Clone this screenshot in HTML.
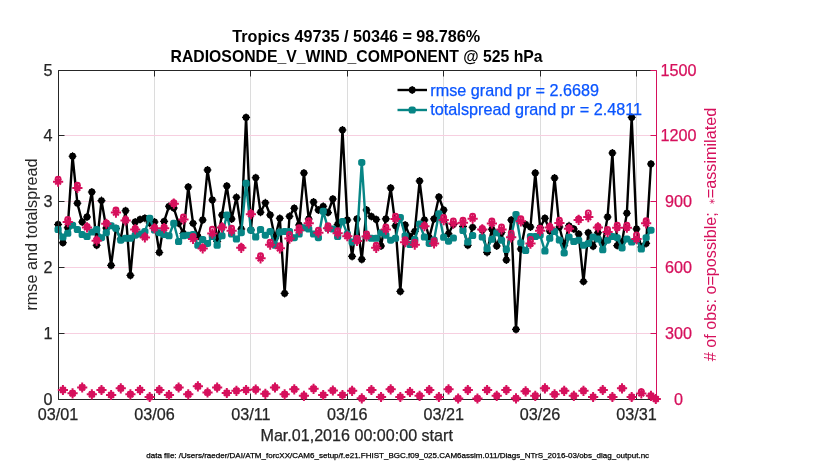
<!DOCTYPE html>
<html><head><meta charset="utf-8"><title>chart</title><style>html,body{margin:0;padding:0;background:#fff;}body{width:830px;height:470px;overflow:hidden;position:relative;font-family:"Liberation Sans",sans-serif;}</style></head><body>
<svg width="830" height="470" viewBox="0 0 830 470" style="position:absolute;left:0;top:0;filter:opacity(1)">
<rect x="0" y="0" width="830" height="470" fill="#fff"/>
<line x1="154.50" y1="70.5" x2="154.50" y2="399.5" stroke="#dcdcdc" stroke-width="1"/>
<line x1="250.50" y1="70.5" x2="250.50" y2="399.5" stroke="#dcdcdc" stroke-width="1"/>
<line x1="347.50" y1="70.5" x2="347.50" y2="399.5" stroke="#dcdcdc" stroke-width="1"/>
<line x1="443.50" y1="70.5" x2="443.50" y2="399.5" stroke="#dcdcdc" stroke-width="1"/>
<line x1="540.50" y1="70.5" x2="540.50" y2="399.5" stroke="#dcdcdc" stroke-width="1"/>
<line x1="636.50" y1="70.5" x2="636.50" y2="399.5" stroke="#dcdcdc" stroke-width="1"/>
<line x1="58.5" y1="333.50" x2="656.5" y2="333.50" stroke="#f7cfe0" stroke-width="1"/>
<line x1="58.5" y1="267.50" x2="656.5" y2="267.50" stroke="#f7cfe0" stroke-width="1"/>
<line x1="58.5" y1="201.50" x2="656.5" y2="201.50" stroke="#f7cfe0" stroke-width="1"/>
<line x1="58.5" y1="135.50" x2="656.5" y2="135.50" stroke="#f7cfe0" stroke-width="1"/>
<path d="M58.10 224.50L62.92 242.70L67.74 227.70L72.56 156.20L77.38 203.20L82.20 222.00L87.02 217.00L91.84 192.00L96.66 245.30L101.48 200.60L106.30 228.00L111.12 265.40L115.94 228.50L120.76 239.00L125.58 210.70L130.40 275.40L135.22 222.00L140.04 219.50L144.86 218.20L149.68 223.00L154.50 222.00L159.32 252.50L164.14 221.40L168.96 206.30L173.78 208.00L178.60 223.30L183.42 233.50L188.24 187.00L193.06 223.30L197.88 236.50L202.70 220.00L207.52 170.00L212.34 200.00L217.16 241.50L221.98 215.00L226.80 186.00L231.62 219.00L236.44 197.30L241.26 229.00L246.08 117.40L250.90 230.00L255.72 177.70L260.54 212.20L265.36 202.80L270.18 215.00L275.00 238.30L279.82 218.30L284.64 293.40L289.46 216.30L294.28 208.20L299.10 225.00L303.92 173.00L308.74 219.00L313.56 202.00L318.38 210.00L323.20 206.30L328.02 212.60L332.84 199.00L337.66 224.50L342.48 130.00L347.30 220.00L352.12 256.40L356.94 219.00L361.76 259.40L366.58 210.00L371.40 216.40L376.22 219.50L381.04 246.00L385.86 218.90L390.68 188.00L395.50 225.80L400.32 291.40L405.14 225.00L409.96 236.50L414.78 231.40L419.60 181.00L424.42 220.00L429.24 237.70L434.06 218.90L438.88 197.00L443.70 210.00L448.52 233.80L453.34 224.50" fill="none" stroke="#000" stroke-width="2.4" stroke-linejoin="round" stroke-linecap="round"/>
<path d="M462.98 226.50L467.80 245.20L472.62 227.30" fill="none" stroke="#000" stroke-width="2.4" stroke-linejoin="round" stroke-linecap="round"/>
<path d="M482.26 230.00L487.08 252.40L491.90 229.30L496.72 246.00L501.54 232.50L506.36 260.00L511.18 220.00L516.00 329.40L520.82 249.00L525.64 224.50L530.46 227.00L535.28 173.00L540.10 227.70L544.92 218.20L549.74 231.00L554.56 178.00L559.38 227.00L564.20 245.30L569.02 225.80L573.84 229.00L578.66 234.00L583.48 281.60L588.30 232.70L593.12 246.30L597.94 232.70L602.76 244.00L607.58 217.00L612.40 153.00L617.22 245.60L622.04 242.00L626.86 213.20L631.68 117.40L636.50 229.00L641.32 247.00L646.14 243.40L650.96 164.00" fill="none" stroke="#000" stroke-width="2.4" stroke-linejoin="round" stroke-linecap="round"/>
<circle cx="58.10" cy="224.50" r="3.4" fill="#000"/>
<circle cx="62.92" cy="242.70" r="3.4" fill="#000"/>
<circle cx="67.74" cy="227.70" r="3.4" fill="#000"/>
<circle cx="72.56" cy="156.20" r="3.4" fill="#000"/>
<circle cx="77.38" cy="203.20" r="3.4" fill="#000"/>
<circle cx="82.20" cy="222.00" r="3.4" fill="#000"/>
<circle cx="87.02" cy="217.00" r="3.4" fill="#000"/>
<circle cx="91.84" cy="192.00" r="3.4" fill="#000"/>
<circle cx="96.66" cy="245.30" r="3.4" fill="#000"/>
<circle cx="101.48" cy="200.60" r="3.4" fill="#000"/>
<circle cx="106.30" cy="228.00" r="3.4" fill="#000"/>
<circle cx="111.12" cy="265.40" r="3.4" fill="#000"/>
<circle cx="115.94" cy="228.50" r="3.4" fill="#000"/>
<circle cx="120.76" cy="239.00" r="3.4" fill="#000"/>
<circle cx="125.58" cy="210.70" r="3.4" fill="#000"/>
<circle cx="130.40" cy="275.40" r="3.4" fill="#000"/>
<circle cx="135.22" cy="222.00" r="3.4" fill="#000"/>
<circle cx="140.04" cy="219.50" r="3.4" fill="#000"/>
<circle cx="144.86" cy="218.20" r="3.4" fill="#000"/>
<circle cx="149.68" cy="223.00" r="3.4" fill="#000"/>
<circle cx="154.50" cy="222.00" r="3.4" fill="#000"/>
<circle cx="159.32" cy="252.50" r="3.4" fill="#000"/>
<circle cx="164.14" cy="221.40" r="3.4" fill="#000"/>
<circle cx="168.96" cy="206.30" r="3.4" fill="#000"/>
<circle cx="173.78" cy="208.00" r="3.4" fill="#000"/>
<circle cx="178.60" cy="223.30" r="3.4" fill="#000"/>
<circle cx="183.42" cy="233.50" r="3.4" fill="#000"/>
<circle cx="188.24" cy="187.00" r="3.4" fill="#000"/>
<circle cx="193.06" cy="223.30" r="3.4" fill="#000"/>
<circle cx="197.88" cy="236.50" r="3.4" fill="#000"/>
<circle cx="202.70" cy="220.00" r="3.4" fill="#000"/>
<circle cx="207.52" cy="170.00" r="3.4" fill="#000"/>
<circle cx="212.34" cy="200.00" r="3.4" fill="#000"/>
<circle cx="217.16" cy="241.50" r="3.4" fill="#000"/>
<circle cx="221.98" cy="215.00" r="3.4" fill="#000"/>
<circle cx="226.80" cy="186.00" r="3.4" fill="#000"/>
<circle cx="231.62" cy="219.00" r="3.4" fill="#000"/>
<circle cx="236.44" cy="197.30" r="3.4" fill="#000"/>
<circle cx="241.26" cy="229.00" r="3.4" fill="#000"/>
<circle cx="246.08" cy="117.40" r="3.4" fill="#000"/>
<circle cx="250.90" cy="230.00" r="3.4" fill="#000"/>
<circle cx="255.72" cy="177.70" r="3.4" fill="#000"/>
<circle cx="260.54" cy="212.20" r="3.4" fill="#000"/>
<circle cx="265.36" cy="202.80" r="3.4" fill="#000"/>
<circle cx="270.18" cy="215.00" r="3.4" fill="#000"/>
<circle cx="275.00" cy="238.30" r="3.4" fill="#000"/>
<circle cx="279.82" cy="218.30" r="3.4" fill="#000"/>
<circle cx="284.64" cy="293.40" r="3.4" fill="#000"/>
<circle cx="289.46" cy="216.30" r="3.4" fill="#000"/>
<circle cx="294.28" cy="208.20" r="3.4" fill="#000"/>
<circle cx="299.10" cy="225.00" r="3.4" fill="#000"/>
<circle cx="303.92" cy="173.00" r="3.4" fill="#000"/>
<circle cx="308.74" cy="219.00" r="3.4" fill="#000"/>
<circle cx="313.56" cy="202.00" r="3.4" fill="#000"/>
<circle cx="318.38" cy="210.00" r="3.4" fill="#000"/>
<circle cx="323.20" cy="206.30" r="3.4" fill="#000"/>
<circle cx="328.02" cy="212.60" r="3.4" fill="#000"/>
<circle cx="332.84" cy="199.00" r="3.4" fill="#000"/>
<circle cx="337.66" cy="224.50" r="3.4" fill="#000"/>
<circle cx="342.48" cy="130.00" r="3.4" fill="#000"/>
<circle cx="347.30" cy="220.00" r="3.4" fill="#000"/>
<circle cx="352.12" cy="256.40" r="3.4" fill="#000"/>
<circle cx="356.94" cy="219.00" r="3.4" fill="#000"/>
<circle cx="361.76" cy="259.40" r="3.4" fill="#000"/>
<circle cx="366.58" cy="210.00" r="3.4" fill="#000"/>
<circle cx="371.40" cy="216.40" r="3.4" fill="#000"/>
<circle cx="376.22" cy="219.50" r="3.4" fill="#000"/>
<circle cx="381.04" cy="246.00" r="3.4" fill="#000"/>
<circle cx="385.86" cy="218.90" r="3.4" fill="#000"/>
<circle cx="390.68" cy="188.00" r="3.4" fill="#000"/>
<circle cx="395.50" cy="225.80" r="3.4" fill="#000"/>
<circle cx="400.32" cy="291.40" r="3.4" fill="#000"/>
<circle cx="405.14" cy="225.00" r="3.4" fill="#000"/>
<circle cx="409.96" cy="236.50" r="3.4" fill="#000"/>
<circle cx="414.78" cy="231.40" r="3.4" fill="#000"/>
<circle cx="419.60" cy="181.00" r="3.4" fill="#000"/>
<circle cx="424.42" cy="220.00" r="3.4" fill="#000"/>
<circle cx="429.24" cy="237.70" r="3.4" fill="#000"/>
<circle cx="434.06" cy="218.90" r="3.4" fill="#000"/>
<circle cx="438.88" cy="197.00" r="3.4" fill="#000"/>
<circle cx="443.70" cy="210.00" r="3.4" fill="#000"/>
<circle cx="448.52" cy="233.80" r="3.4" fill="#000"/>
<circle cx="453.34" cy="224.50" r="3.4" fill="#000"/>
<circle cx="462.98" cy="226.50" r="3.4" fill="#000"/>
<circle cx="467.80" cy="245.20" r="3.4" fill="#000"/>
<circle cx="472.62" cy="227.30" r="3.4" fill="#000"/>
<circle cx="482.26" cy="230.00" r="3.4" fill="#000"/>
<circle cx="487.08" cy="252.40" r="3.4" fill="#000"/>
<circle cx="491.90" cy="229.30" r="3.4" fill="#000"/>
<circle cx="496.72" cy="246.00" r="3.4" fill="#000"/>
<circle cx="501.54" cy="232.50" r="3.4" fill="#000"/>
<circle cx="506.36" cy="260.00" r="3.4" fill="#000"/>
<circle cx="511.18" cy="220.00" r="3.4" fill="#000"/>
<circle cx="516.00" cy="329.40" r="3.4" fill="#000"/>
<circle cx="520.82" cy="249.00" r="3.4" fill="#000"/>
<circle cx="525.64" cy="224.50" r="3.4" fill="#000"/>
<circle cx="530.46" cy="227.00" r="3.4" fill="#000"/>
<circle cx="535.28" cy="173.00" r="3.4" fill="#000"/>
<circle cx="540.10" cy="227.70" r="3.4" fill="#000"/>
<circle cx="544.92" cy="218.20" r="3.4" fill="#000"/>
<circle cx="549.74" cy="231.00" r="3.4" fill="#000"/>
<circle cx="554.56" cy="178.00" r="3.4" fill="#000"/>
<circle cx="559.38" cy="227.00" r="3.4" fill="#000"/>
<circle cx="564.20" cy="245.30" r="3.4" fill="#000"/>
<circle cx="569.02" cy="225.80" r="3.4" fill="#000"/>
<circle cx="573.84" cy="229.00" r="3.4" fill="#000"/>
<circle cx="578.66" cy="234.00" r="3.4" fill="#000"/>
<circle cx="583.48" cy="281.60" r="3.4" fill="#000"/>
<circle cx="588.30" cy="232.70" r="3.4" fill="#000"/>
<circle cx="593.12" cy="246.30" r="3.4" fill="#000"/>
<circle cx="597.94" cy="232.70" r="3.4" fill="#000"/>
<circle cx="602.76" cy="244.00" r="3.4" fill="#000"/>
<circle cx="607.58" cy="217.00" r="3.4" fill="#000"/>
<circle cx="612.40" cy="153.00" r="3.4" fill="#000"/>
<circle cx="617.22" cy="245.60" r="3.4" fill="#000"/>
<circle cx="622.04" cy="242.00" r="3.4" fill="#000"/>
<circle cx="626.86" cy="213.20" r="3.4" fill="#000"/>
<circle cx="631.68" cy="117.40" r="3.4" fill="#000"/>
<circle cx="636.50" cy="229.00" r="3.4" fill="#000"/>
<circle cx="641.32" cy="247.00" r="3.4" fill="#000"/>
<circle cx="646.14" cy="243.40" r="3.4" fill="#000"/>
<circle cx="650.96" cy="164.00" r="3.4" fill="#000"/>
<path d="M54.10 224.50L62.10 224.50M55.84 222.24L60.36 226.76M58.10 220.50L58.10 228.50M60.36 222.24L55.84 226.76M58.92 242.70L66.92 242.70M60.66 240.44L65.18 244.96M62.92 238.70L62.92 246.70M65.18 240.44L60.66 244.96M63.74 227.70L71.74 227.70M65.48 225.44L70.00 229.96M67.74 223.70L67.74 231.70M70.00 225.44L65.48 229.96M68.56 156.20L76.56 156.20M70.30 153.94L74.82 158.46M72.56 152.20L72.56 160.20M74.82 153.94L70.30 158.46M73.38 203.20L81.38 203.20M75.12 200.94L79.64 205.46M77.38 199.20L77.38 207.20M79.64 200.94L75.12 205.46M78.20 222.00L86.20 222.00M79.94 219.74L84.46 224.26M82.20 218.00L82.20 226.00M84.46 219.74L79.94 224.26M83.02 217.00L91.02 217.00M84.76 214.74L89.28 219.26M87.02 213.00L87.02 221.00M89.28 214.74L84.76 219.26M87.84 192.00L95.84 192.00M89.58 189.74L94.10 194.26M91.84 188.00L91.84 196.00M94.10 189.74L89.58 194.26M92.66 245.30L100.66 245.30M94.40 243.04L98.92 247.56M96.66 241.30L96.66 249.30M98.92 243.04L94.40 247.56M97.48 200.60L105.48 200.60M99.22 198.34L103.74 202.86M101.48 196.60L101.48 204.60M103.74 198.34L99.22 202.86M102.30 228.00L110.30 228.00M104.04 225.74L108.56 230.26M106.30 224.00L106.30 232.00M108.56 225.74L104.04 230.26M107.12 265.40L115.12 265.40M108.86 263.14L113.38 267.66M111.12 261.40L111.12 269.40M113.38 263.14L108.86 267.66M111.94 228.50L119.94 228.50M113.68 226.24L118.20 230.76M115.94 224.50L115.94 232.50M118.20 226.24L113.68 230.76M116.76 239.00L124.76 239.00M118.50 236.74L123.02 241.26M120.76 235.00L120.76 243.00M123.02 236.74L118.50 241.26M121.58 210.70L129.58 210.70M123.32 208.44L127.84 212.96M125.58 206.70L125.58 214.70M127.84 208.44L123.32 212.96M126.40 275.40L134.40 275.40M128.14 273.14L132.66 277.66M130.40 271.40L130.40 279.40M132.66 273.14L128.14 277.66M131.22 222.00L139.22 222.00M132.96 219.74L137.48 224.26M135.22 218.00L135.22 226.00M137.48 219.74L132.96 224.26M136.04 219.50L144.04 219.50M137.78 217.24L142.30 221.76M140.04 215.50L140.04 223.50M142.30 217.24L137.78 221.76M140.86 218.20L148.86 218.20M142.60 215.94L147.12 220.46M144.86 214.20L144.86 222.20M147.12 215.94L142.60 220.46M145.68 223.00L153.68 223.00M147.42 220.74L151.94 225.26M149.68 219.00L149.68 227.00M151.94 220.74L147.42 225.26M150.50 222.00L158.50 222.00M152.24 219.74L156.76 224.26M154.50 218.00L154.50 226.00M156.76 219.74L152.24 224.26M155.32 252.50L163.32 252.50M157.06 250.24L161.58 254.76M159.32 248.50L159.32 256.50M161.58 250.24L157.06 254.76M160.14 221.40L168.14 221.40M161.88 219.14L166.40 223.66M164.14 217.40L164.14 225.40M166.40 219.14L161.88 223.66M164.96 206.30L172.96 206.30M166.70 204.04L171.22 208.56M168.96 202.30L168.96 210.30M171.22 204.04L166.70 208.56M169.78 208.00L177.78 208.00M171.52 205.74L176.04 210.26M173.78 204.00L173.78 212.00M176.04 205.74L171.52 210.26M174.60 223.30L182.60 223.30M176.34 221.04L180.86 225.56M178.60 219.30L178.60 227.30M180.86 221.04L176.34 225.56M179.42 233.50L187.42 233.50M181.16 231.24L185.68 235.76M183.42 229.50L183.42 237.50M185.68 231.24L181.16 235.76M184.24 187.00L192.24 187.00M185.98 184.74L190.50 189.26M188.24 183.00L188.24 191.00M190.50 184.74L185.98 189.26M189.06 223.30L197.06 223.30M190.80 221.04L195.32 225.56M193.06 219.30L193.06 227.30M195.32 221.04L190.80 225.56M193.88 236.50L201.88 236.50M195.62 234.24L200.14 238.76M197.88 232.50L197.88 240.50M200.14 234.24L195.62 238.76M198.70 220.00L206.70 220.00M200.44 217.74L204.96 222.26M202.70 216.00L202.70 224.00M204.96 217.74L200.44 222.26M203.52 170.00L211.52 170.00M205.26 167.74L209.78 172.26M207.52 166.00L207.52 174.00M209.78 167.74L205.26 172.26M208.34 200.00L216.34 200.00M210.08 197.74L214.60 202.26M212.34 196.00L212.34 204.00M214.60 197.74L210.08 202.26M213.16 241.50L221.16 241.50M214.90 239.24L219.42 243.76M217.16 237.50L217.16 245.50M219.42 239.24L214.90 243.76M217.98 215.00L225.98 215.00M219.72 212.74L224.24 217.26M221.98 211.00L221.98 219.00M224.24 212.74L219.72 217.26M222.80 186.00L230.80 186.00M224.54 183.74L229.06 188.26M226.80 182.00L226.80 190.00M229.06 183.74L224.54 188.26M227.62 219.00L235.62 219.00M229.36 216.74L233.88 221.26M231.62 215.00L231.62 223.00M233.88 216.74L229.36 221.26M232.44 197.30L240.44 197.30M234.18 195.04L238.70 199.56M236.44 193.30L236.44 201.30M238.70 195.04L234.18 199.56M237.26 229.00L245.26 229.00M239.00 226.74L243.52 231.26M241.26 225.00L241.26 233.00M243.52 226.74L239.00 231.26M242.08 117.40L250.08 117.40M243.82 115.14L248.34 119.66M246.08 113.40L246.08 121.40M248.34 115.14L243.82 119.66M246.90 230.00L254.90 230.00M248.64 227.74L253.16 232.26M250.90 226.00L250.90 234.00M253.16 227.74L248.64 232.26M251.72 177.70L259.72 177.70M253.46 175.44L257.98 179.96M255.72 173.70L255.72 181.70M257.98 175.44L253.46 179.96M256.54 212.20L264.54 212.20M258.28 209.94L262.80 214.46M260.54 208.20L260.54 216.20M262.80 209.94L258.28 214.46M261.36 202.80L269.36 202.80M263.10 200.54L267.62 205.06M265.36 198.80L265.36 206.80M267.62 200.54L263.10 205.06M266.18 215.00L274.18 215.00M267.92 212.74L272.44 217.26M270.18 211.00L270.18 219.00M272.44 212.74L267.92 217.26M271.00 238.30L279.00 238.30M272.74 236.04L277.26 240.56M275.00 234.30L275.00 242.30M277.26 236.04L272.74 240.56M275.82 218.30L283.82 218.30M277.56 216.04L282.08 220.56M279.82 214.30L279.82 222.30M282.08 216.04L277.56 220.56M280.64 293.40L288.64 293.40M282.38 291.14L286.90 295.66M284.64 289.40L284.64 297.40M286.90 291.14L282.38 295.66M285.46 216.30L293.46 216.30M287.20 214.04L291.72 218.56M289.46 212.30L289.46 220.30M291.72 214.04L287.20 218.56M290.28 208.20L298.28 208.20M292.02 205.94L296.54 210.46M294.28 204.20L294.28 212.20M296.54 205.94L292.02 210.46M295.10 225.00L303.10 225.00M296.84 222.74L301.36 227.26M299.10 221.00L299.10 229.00M301.36 222.74L296.84 227.26M299.92 173.00L307.92 173.00M301.66 170.74L306.18 175.26M303.92 169.00L303.92 177.00M306.18 170.74L301.66 175.26M304.74 219.00L312.74 219.00M306.48 216.74L311.00 221.26M308.74 215.00L308.74 223.00M311.00 216.74L306.48 221.26M309.56 202.00L317.56 202.00M311.30 199.74L315.82 204.26M313.56 198.00L313.56 206.00M315.82 199.74L311.30 204.26M314.38 210.00L322.38 210.00M316.12 207.74L320.64 212.26M318.38 206.00L318.38 214.00M320.64 207.74L316.12 212.26M319.20 206.30L327.20 206.30M320.94 204.04L325.46 208.56M323.20 202.30L323.20 210.30M325.46 204.04L320.94 208.56M324.02 212.60L332.02 212.60M325.76 210.34L330.28 214.86M328.02 208.60L328.02 216.60M330.28 210.34L325.76 214.86M328.84 199.00L336.84 199.00M330.58 196.74L335.10 201.26M332.84 195.00L332.84 203.00M335.10 196.74L330.58 201.26M333.66 224.50L341.66 224.50M335.40 222.24L339.92 226.76M337.66 220.50L337.66 228.50M339.92 222.24L335.40 226.76M338.48 130.00L346.48 130.00M340.22 127.74L344.74 132.26M342.48 126.00L342.48 134.00M344.74 127.74L340.22 132.26M343.30 220.00L351.30 220.00M345.04 217.74L349.56 222.26M347.30 216.00L347.30 224.00M349.56 217.74L345.04 222.26M348.12 256.40L356.12 256.40M349.86 254.14L354.38 258.66M352.12 252.40L352.12 260.40M354.38 254.14L349.86 258.66M352.94 219.00L360.94 219.00M354.68 216.74L359.20 221.26M356.94 215.00L356.94 223.00M359.20 216.74L354.68 221.26M357.76 259.40L365.76 259.40M359.50 257.14L364.02 261.66M361.76 255.40L361.76 263.40M364.02 257.14L359.50 261.66M362.58 210.00L370.58 210.00M364.32 207.74L368.84 212.26M366.58 206.00L366.58 214.00M368.84 207.74L364.32 212.26M367.40 216.40L375.40 216.40M369.14 214.14L373.66 218.66M371.40 212.40L371.40 220.40M373.66 214.14L369.14 218.66M372.22 219.50L380.22 219.50M373.96 217.24L378.48 221.76M376.22 215.50L376.22 223.50M378.48 217.24L373.96 221.76M377.04 246.00L385.04 246.00M378.78 243.74L383.30 248.26M381.04 242.00L381.04 250.00M383.30 243.74L378.78 248.26M381.86 218.90L389.86 218.90M383.60 216.64L388.12 221.16M385.86 214.90L385.86 222.90M388.12 216.64L383.60 221.16M386.68 188.00L394.68 188.00M388.42 185.74L392.94 190.26M390.68 184.00L390.68 192.00M392.94 185.74L388.42 190.26M391.50 225.80L399.50 225.80M393.24 223.54L397.76 228.06M395.50 221.80L395.50 229.80M397.76 223.54L393.24 228.06M396.32 291.40L404.32 291.40M398.06 289.14L402.58 293.66M400.32 287.40L400.32 295.40M402.58 289.14L398.06 293.66M401.14 225.00L409.14 225.00M402.88 222.74L407.40 227.26M405.14 221.00L405.14 229.00M407.40 222.74L402.88 227.26M405.96 236.50L413.96 236.50M407.70 234.24L412.22 238.76M409.96 232.50L409.96 240.50M412.22 234.24L407.70 238.76M410.78 231.40L418.78 231.40M412.52 229.14L417.04 233.66M414.78 227.40L414.78 235.40M417.04 229.14L412.52 233.66M415.60 181.00L423.60 181.00M417.34 178.74L421.86 183.26M419.60 177.00L419.60 185.00M421.86 178.74L417.34 183.26M420.42 220.00L428.42 220.00M422.16 217.74L426.68 222.26M424.42 216.00L424.42 224.00M426.68 217.74L422.16 222.26M425.24 237.70L433.24 237.70M426.98 235.44L431.50 239.96M429.24 233.70L429.24 241.70M431.50 235.44L426.98 239.96M430.06 218.90L438.06 218.90M431.80 216.64L436.32 221.16M434.06 214.90L434.06 222.90M436.32 216.64L431.80 221.16M434.88 197.00L442.88 197.00M436.62 194.74L441.14 199.26M438.88 193.00L438.88 201.00M441.14 194.74L436.62 199.26M439.70 210.00L447.70 210.00M441.44 207.74L445.96 212.26M443.70 206.00L443.70 214.00M445.96 207.74L441.44 212.26M444.52 233.80L452.52 233.80M446.26 231.54L450.78 236.06M448.52 229.80L448.52 237.80M450.78 231.54L446.26 236.06M449.34 224.50L457.34 224.50M451.08 222.24L455.60 226.76M453.34 220.50L453.34 228.50M455.60 222.24L451.08 226.76M458.98 226.50L466.98 226.50M460.72 224.24L465.24 228.76M462.98 222.50L462.98 230.50M465.24 224.24L460.72 228.76M463.80 245.20L471.80 245.20M465.54 242.94L470.06 247.46M467.80 241.20L467.80 249.20M470.06 242.94L465.54 247.46M468.62 227.30L476.62 227.30M470.36 225.04L474.88 229.56M472.62 223.30L472.62 231.30M474.88 225.04L470.36 229.56M478.26 230.00L486.26 230.00M480.00 227.74L484.52 232.26M482.26 226.00L482.26 234.00M484.52 227.74L480.00 232.26M483.08 252.40L491.08 252.40M484.82 250.14L489.34 254.66M487.08 248.40L487.08 256.40M489.34 250.14L484.82 254.66M487.90 229.30L495.90 229.30M489.64 227.04L494.16 231.56M491.90 225.30L491.90 233.30M494.16 227.04L489.64 231.56M492.72 246.00L500.72 246.00M494.46 243.74L498.98 248.26M496.72 242.00L496.72 250.00M498.98 243.74L494.46 248.26M497.54 232.50L505.54 232.50M499.28 230.24L503.80 234.76M501.54 228.50L501.54 236.50M503.80 230.24L499.28 234.76M502.36 260.00L510.36 260.00M504.10 257.74L508.62 262.26M506.36 256.00L506.36 264.00M508.62 257.74L504.10 262.26M507.18 220.00L515.18 220.00M508.92 217.74L513.44 222.26M511.18 216.00L511.18 224.00M513.44 217.74L508.92 222.26M512.00 329.40L520.00 329.40M513.74 327.14L518.26 331.66M516.00 325.40L516.00 333.40M518.26 327.14L513.74 331.66M516.82 249.00L524.82 249.00M518.56 246.74L523.08 251.26M520.82 245.00L520.82 253.00M523.08 246.74L518.56 251.26M521.64 224.50L529.64 224.50M523.38 222.24L527.90 226.76M525.64 220.50L525.64 228.50M527.90 222.24L523.38 226.76M526.46 227.00L534.46 227.00M528.20 224.74L532.72 229.26M530.46 223.00L530.46 231.00M532.72 224.74L528.20 229.26M531.28 173.00L539.28 173.00M533.02 170.74L537.54 175.26M535.28 169.00L535.28 177.00M537.54 170.74L533.02 175.26M536.10 227.70L544.10 227.70M537.84 225.44L542.36 229.96M540.10 223.70L540.10 231.70M542.36 225.44L537.84 229.96M540.92 218.20L548.92 218.20M542.66 215.94L547.18 220.46M544.92 214.20L544.92 222.20M547.18 215.94L542.66 220.46M545.74 231.00L553.74 231.00M547.48 228.74L552.00 233.26M549.74 227.00L549.74 235.00M552.00 228.74L547.48 233.26M550.56 178.00L558.56 178.00M552.30 175.74L556.82 180.26M554.56 174.00L554.56 182.00M556.82 175.74L552.30 180.26M555.38 227.00L563.38 227.00M557.12 224.74L561.64 229.26M559.38 223.00L559.38 231.00M561.64 224.74L557.12 229.26M560.20 245.30L568.20 245.30M561.94 243.04L566.46 247.56M564.20 241.30L564.20 249.30M566.46 243.04L561.94 247.56M565.02 225.80L573.02 225.80M566.76 223.54L571.28 228.06M569.02 221.80L569.02 229.80M571.28 223.54L566.76 228.06M569.84 229.00L577.84 229.00M571.58 226.74L576.10 231.26M573.84 225.00L573.84 233.00M576.10 226.74L571.58 231.26M574.66 234.00L582.66 234.00M576.40 231.74L580.92 236.26M578.66 230.00L578.66 238.00M580.92 231.74L576.40 236.26M579.48 281.60L587.48 281.60M581.22 279.34L585.74 283.86M583.48 277.60L583.48 285.60M585.74 279.34L581.22 283.86M584.30 232.70L592.30 232.70M586.04 230.44L590.56 234.96M588.30 228.70L588.30 236.70M590.56 230.44L586.04 234.96M589.12 246.30L597.12 246.30M590.86 244.04L595.38 248.56M593.12 242.30L593.12 250.30M595.38 244.04L590.86 248.56M593.94 232.70L601.94 232.70M595.68 230.44L600.20 234.96M597.94 228.70L597.94 236.70M600.20 230.44L595.68 234.96M598.76 244.00L606.76 244.00M600.50 241.74L605.02 246.26M602.76 240.00L602.76 248.00M605.02 241.74L600.50 246.26M603.58 217.00L611.58 217.00M605.32 214.74L609.84 219.26M607.58 213.00L607.58 221.00M609.84 214.74L605.32 219.26M608.40 153.00L616.40 153.00M610.14 150.74L614.66 155.26M612.40 149.00L612.40 157.00M614.66 150.74L610.14 155.26M613.22 245.60L621.22 245.60M614.96 243.34L619.48 247.86M617.22 241.60L617.22 249.60M619.48 243.34L614.96 247.86M618.04 242.00L626.04 242.00M619.78 239.74L624.30 244.26M622.04 238.00L622.04 246.00M624.30 239.74L619.78 244.26M622.86 213.20L630.86 213.20M624.60 210.94L629.12 215.46M626.86 209.20L626.86 217.20M629.12 210.94L624.60 215.46M627.68 117.40L635.68 117.40M629.42 115.14L633.94 119.66M631.68 113.40L631.68 121.40M633.94 115.14L629.42 119.66M632.50 229.00L640.50 229.00M634.24 226.74L638.76 231.26M636.50 225.00L636.50 233.00M638.76 226.74L634.24 231.26M637.32 247.00L645.32 247.00M639.06 244.74L643.58 249.26M641.32 243.00L641.32 251.00M643.58 244.74L639.06 249.26M642.14 243.40L650.14 243.40M643.88 241.14L648.40 245.66M646.14 239.40L646.14 247.40M648.40 241.14L643.88 245.66M646.96 164.00L654.96 164.00M648.70 161.74L653.22 166.26M650.96 160.00L650.96 168.00M653.22 161.74L648.70 166.26" stroke="#000" stroke-width="1.1" fill="none"/>
<path d="M58.10 229.50L62.92 237.00L67.74 233.30L72.56 225.20L77.38 229.50L82.20 234.60L87.02 236.50L91.84 232.00L96.66 229.50L101.48 237.70L106.30 232.70L111.12 225.80L115.94 228.30L120.76 240.20L125.58 238.30L130.40 238.30L135.22 235.20L140.04 234.00L144.86 231.40L149.68 218.20L154.50 230.00L159.32 232.70L164.14 234.60L168.96 235.80L173.78 223.30L178.60 241.50L183.42 235.80L188.24 235.20L193.06 234.60L197.88 245.30L202.70 239.60L207.52 243.40L212.34 236.50L217.16 245.30L221.98 235.80L226.80 215.00L231.62 234.00L236.44 239.00L241.26 232.70L246.08 183.30L250.90 230.20L255.72 237.00L260.54 229.50L265.36 235.20L270.18 231.40L275.00 245.30L279.82 232.00L284.64 231.40L289.46 231.40L294.28 237.70L299.10 234.00L303.92 227.70L308.74 229.00L313.56 234.00L318.38 237.70L323.20 211.30L328.02 228.30L332.84 229.00L337.66 236.50L342.48 221.40L347.30 234.00L352.12 242.10L356.94 239.00L361.76 162.40L366.58 236.00L371.40 238.30L376.22 238.30L381.04 232.70L385.86 235.20L390.68 240.20L395.50 238.30L400.32 217.60L405.14 235.80L409.96 244.60L414.78 239.60L419.60 223.90L424.42 237.00L429.24 243.40L434.06 240.00L438.88 213.80L443.70 237.30L448.52 241.20L453.34 238.00" fill="none" stroke="#078585" stroke-width="2.4" stroke-linejoin="round" stroke-linecap="round"/>
<path d="M462.98 230.50L467.80 242.00L472.62 235.50" fill="none" stroke="#078585" stroke-width="2.4" stroke-linejoin="round" stroke-linecap="round"/>
<path d="M482.26 237.00L487.08 248.70L491.90 239.30L496.72 232.80L501.54 240.20L506.36 249.50L511.18 236.00L516.00 214.50L520.82 242.70L525.64 250.60L530.46 236.50L535.28 236.50L540.10 235.20L544.92 251.00L549.74 238.30L554.56 231.40L559.38 240.00L564.20 253.00L569.02 237.00L573.84 241.50L578.66 240.20L583.48 245.30L588.30 243.40L593.12 237.00L597.94 239.00L602.76 249.80L607.58 240.20L612.40 236.50L617.22 237.70L622.04 247.90L626.86 239.00L631.68 242.10L636.50 239.60L641.32 249.00L646.14 237.70L650.96 230.20" fill="none" stroke="#078585" stroke-width="2.4" stroke-linejoin="round" stroke-linecap="round"/>
<rect x="54.50" y="226.00" width="7.2" height="7" rx="2.6" fill="#078585"/>
<rect x="59.32" y="233.50" width="7.2" height="7" rx="2.6" fill="#078585"/>
<rect x="64.14" y="229.80" width="7.2" height="7" rx="2.6" fill="#078585"/>
<rect x="68.96" y="221.70" width="7.2" height="7" rx="2.6" fill="#078585"/>
<rect x="73.78" y="226.00" width="7.2" height="7" rx="2.6" fill="#078585"/>
<rect x="78.60" y="231.10" width="7.2" height="7" rx="2.6" fill="#078585"/>
<rect x="83.42" y="233.00" width="7.2" height="7" rx="2.6" fill="#078585"/>
<rect x="88.24" y="228.50" width="7.2" height="7" rx="2.6" fill="#078585"/>
<rect x="93.06" y="226.00" width="7.2" height="7" rx="2.6" fill="#078585"/>
<rect x="97.88" y="234.20" width="7.2" height="7" rx="2.6" fill="#078585"/>
<rect x="102.70" y="229.20" width="7.2" height="7" rx="2.6" fill="#078585"/>
<rect x="107.52" y="222.30" width="7.2" height="7" rx="2.6" fill="#078585"/>
<rect x="112.34" y="224.80" width="7.2" height="7" rx="2.6" fill="#078585"/>
<rect x="117.16" y="236.70" width="7.2" height="7" rx="2.6" fill="#078585"/>
<rect x="121.98" y="234.80" width="7.2" height="7" rx="2.6" fill="#078585"/>
<rect x="126.80" y="234.80" width="7.2" height="7" rx="2.6" fill="#078585"/>
<rect x="131.62" y="231.70" width="7.2" height="7" rx="2.6" fill="#078585"/>
<rect x="136.44" y="230.50" width="7.2" height="7" rx="2.6" fill="#078585"/>
<rect x="141.26" y="227.90" width="7.2" height="7" rx="2.6" fill="#078585"/>
<rect x="146.08" y="214.70" width="7.2" height="7" rx="2.6" fill="#078585"/>
<rect x="150.90" y="226.50" width="7.2" height="7" rx="2.6" fill="#078585"/>
<rect x="155.72" y="229.20" width="7.2" height="7" rx="2.6" fill="#078585"/>
<rect x="160.54" y="231.10" width="7.2" height="7" rx="2.6" fill="#078585"/>
<rect x="165.36" y="232.30" width="7.2" height="7" rx="2.6" fill="#078585"/>
<rect x="170.18" y="219.80" width="7.2" height="7" rx="2.6" fill="#078585"/>
<rect x="175.00" y="238.00" width="7.2" height="7" rx="2.6" fill="#078585"/>
<rect x="179.82" y="232.30" width="7.2" height="7" rx="2.6" fill="#078585"/>
<rect x="184.64" y="231.70" width="7.2" height="7" rx="2.6" fill="#078585"/>
<rect x="189.46" y="231.10" width="7.2" height="7" rx="2.6" fill="#078585"/>
<rect x="194.28" y="241.80" width="7.2" height="7" rx="2.6" fill="#078585"/>
<rect x="199.10" y="236.10" width="7.2" height="7" rx="2.6" fill="#078585"/>
<rect x="203.92" y="239.90" width="7.2" height="7" rx="2.6" fill="#078585"/>
<rect x="208.74" y="233.00" width="7.2" height="7" rx="2.6" fill="#078585"/>
<rect x="213.56" y="241.80" width="7.2" height="7" rx="2.6" fill="#078585"/>
<rect x="218.38" y="232.30" width="7.2" height="7" rx="2.6" fill="#078585"/>
<rect x="223.20" y="211.50" width="7.2" height="7" rx="2.6" fill="#078585"/>
<rect x="228.02" y="230.50" width="7.2" height="7" rx="2.6" fill="#078585"/>
<rect x="232.84" y="235.50" width="7.2" height="7" rx="2.6" fill="#078585"/>
<rect x="237.66" y="229.20" width="7.2" height="7" rx="2.6" fill="#078585"/>
<rect x="242.48" y="179.80" width="7.2" height="7" rx="2.6" fill="#078585"/>
<rect x="247.30" y="226.70" width="7.2" height="7" rx="2.6" fill="#078585"/>
<rect x="252.12" y="233.50" width="7.2" height="7" rx="2.6" fill="#078585"/>
<rect x="256.94" y="226.00" width="7.2" height="7" rx="2.6" fill="#078585"/>
<rect x="261.76" y="231.70" width="7.2" height="7" rx="2.6" fill="#078585"/>
<rect x="266.58" y="227.90" width="7.2" height="7" rx="2.6" fill="#078585"/>
<rect x="271.40" y="241.80" width="7.2" height="7" rx="2.6" fill="#078585"/>
<rect x="276.22" y="228.50" width="7.2" height="7" rx="2.6" fill="#078585"/>
<rect x="281.04" y="227.90" width="7.2" height="7" rx="2.6" fill="#078585"/>
<rect x="285.86" y="227.90" width="7.2" height="7" rx="2.6" fill="#078585"/>
<rect x="290.68" y="234.20" width="7.2" height="7" rx="2.6" fill="#078585"/>
<rect x="295.50" y="230.50" width="7.2" height="7" rx="2.6" fill="#078585"/>
<rect x="300.32" y="224.20" width="7.2" height="7" rx="2.6" fill="#078585"/>
<rect x="305.14" y="225.50" width="7.2" height="7" rx="2.6" fill="#078585"/>
<rect x="309.96" y="230.50" width="7.2" height="7" rx="2.6" fill="#078585"/>
<rect x="314.78" y="234.20" width="7.2" height="7" rx="2.6" fill="#078585"/>
<rect x="319.60" y="207.80" width="7.2" height="7" rx="2.6" fill="#078585"/>
<rect x="324.42" y="224.80" width="7.2" height="7" rx="2.6" fill="#078585"/>
<rect x="329.24" y="225.50" width="7.2" height="7" rx="2.6" fill="#078585"/>
<rect x="334.06" y="233.00" width="7.2" height="7" rx="2.6" fill="#078585"/>
<rect x="338.88" y="217.90" width="7.2" height="7" rx="2.6" fill="#078585"/>
<rect x="343.70" y="230.50" width="7.2" height="7" rx="2.6" fill="#078585"/>
<rect x="348.52" y="238.60" width="7.2" height="7" rx="2.6" fill="#078585"/>
<rect x="353.34" y="235.50" width="7.2" height="7" rx="2.6" fill="#078585"/>
<rect x="358.16" y="158.90" width="7.2" height="7" rx="2.6" fill="#078585"/>
<rect x="362.98" y="232.50" width="7.2" height="7" rx="2.6" fill="#078585"/>
<rect x="367.80" y="234.80" width="7.2" height="7" rx="2.6" fill="#078585"/>
<rect x="372.62" y="234.80" width="7.2" height="7" rx="2.6" fill="#078585"/>
<rect x="377.44" y="229.20" width="7.2" height="7" rx="2.6" fill="#078585"/>
<rect x="382.26" y="231.70" width="7.2" height="7" rx="2.6" fill="#078585"/>
<rect x="387.08" y="236.70" width="7.2" height="7" rx="2.6" fill="#078585"/>
<rect x="391.90" y="234.80" width="7.2" height="7" rx="2.6" fill="#078585"/>
<rect x="396.72" y="214.10" width="7.2" height="7" rx="2.6" fill="#078585"/>
<rect x="401.54" y="232.30" width="7.2" height="7" rx="2.6" fill="#078585"/>
<rect x="406.36" y="241.10" width="7.2" height="7" rx="2.6" fill="#078585"/>
<rect x="411.18" y="236.10" width="7.2" height="7" rx="2.6" fill="#078585"/>
<rect x="416.00" y="220.40" width="7.2" height="7" rx="2.6" fill="#078585"/>
<rect x="420.82" y="233.50" width="7.2" height="7" rx="2.6" fill="#078585"/>
<rect x="425.64" y="239.90" width="7.2" height="7" rx="2.6" fill="#078585"/>
<rect x="430.46" y="236.50" width="7.2" height="7" rx="2.6" fill="#078585"/>
<rect x="435.28" y="210.30" width="7.2" height="7" rx="2.6" fill="#078585"/>
<rect x="440.10" y="233.80" width="7.2" height="7" rx="2.6" fill="#078585"/>
<rect x="444.92" y="237.70" width="7.2" height="7" rx="2.6" fill="#078585"/>
<rect x="449.74" y="234.50" width="7.2" height="7" rx="2.6" fill="#078585"/>
<rect x="459.38" y="227.00" width="7.2" height="7" rx="2.6" fill="#078585"/>
<rect x="464.20" y="238.50" width="7.2" height="7" rx="2.6" fill="#078585"/>
<rect x="469.02" y="232.00" width="7.2" height="7" rx="2.6" fill="#078585"/>
<rect x="478.66" y="233.50" width="7.2" height="7" rx="2.6" fill="#078585"/>
<rect x="483.48" y="245.20" width="7.2" height="7" rx="2.6" fill="#078585"/>
<rect x="488.30" y="235.80" width="7.2" height="7" rx="2.6" fill="#078585"/>
<rect x="493.12" y="229.30" width="7.2" height="7" rx="2.6" fill="#078585"/>
<rect x="497.94" y="236.70" width="7.2" height="7" rx="2.6" fill="#078585"/>
<rect x="502.76" y="246.00" width="7.2" height="7" rx="2.6" fill="#078585"/>
<rect x="507.58" y="232.50" width="7.2" height="7" rx="2.6" fill="#078585"/>
<rect x="512.40" y="211.00" width="7.2" height="7" rx="2.6" fill="#078585"/>
<rect x="517.22" y="239.20" width="7.2" height="7" rx="2.6" fill="#078585"/>
<rect x="522.04" y="247.10" width="7.2" height="7" rx="2.6" fill="#078585"/>
<rect x="526.86" y="233.00" width="7.2" height="7" rx="2.6" fill="#078585"/>
<rect x="531.68" y="233.00" width="7.2" height="7" rx="2.6" fill="#078585"/>
<rect x="536.50" y="231.70" width="7.2" height="7" rx="2.6" fill="#078585"/>
<rect x="541.32" y="247.50" width="7.2" height="7" rx="2.6" fill="#078585"/>
<rect x="546.14" y="234.80" width="7.2" height="7" rx="2.6" fill="#078585"/>
<rect x="550.96" y="227.90" width="7.2" height="7" rx="2.6" fill="#078585"/>
<rect x="555.78" y="236.50" width="7.2" height="7" rx="2.6" fill="#078585"/>
<rect x="560.60" y="249.50" width="7.2" height="7" rx="2.6" fill="#078585"/>
<rect x="565.42" y="233.50" width="7.2" height="7" rx="2.6" fill="#078585"/>
<rect x="570.24" y="238.00" width="7.2" height="7" rx="2.6" fill="#078585"/>
<rect x="575.06" y="236.70" width="7.2" height="7" rx="2.6" fill="#078585"/>
<rect x="579.88" y="241.80" width="7.2" height="7" rx="2.6" fill="#078585"/>
<rect x="584.70" y="239.90" width="7.2" height="7" rx="2.6" fill="#078585"/>
<rect x="589.52" y="233.50" width="7.2" height="7" rx="2.6" fill="#078585"/>
<rect x="594.34" y="235.50" width="7.2" height="7" rx="2.6" fill="#078585"/>
<rect x="599.16" y="246.30" width="7.2" height="7" rx="2.6" fill="#078585"/>
<rect x="603.98" y="236.70" width="7.2" height="7" rx="2.6" fill="#078585"/>
<rect x="608.80" y="233.00" width="7.2" height="7" rx="2.6" fill="#078585"/>
<rect x="613.62" y="234.20" width="7.2" height="7" rx="2.6" fill="#078585"/>
<rect x="618.44" y="244.40" width="7.2" height="7" rx="2.6" fill="#078585"/>
<rect x="623.26" y="235.50" width="7.2" height="7" rx="2.6" fill="#078585"/>
<rect x="628.08" y="238.60" width="7.2" height="7" rx="2.6" fill="#078585"/>
<rect x="632.90" y="236.10" width="7.2" height="7" rx="2.6" fill="#078585"/>
<rect x="637.72" y="245.50" width="7.2" height="7" rx="2.6" fill="#078585"/>
<rect x="642.54" y="234.20" width="7.2" height="7" rx="2.6" fill="#078585"/>
<rect x="647.36" y="226.70" width="7.2" height="7" rx="2.6" fill="#078585"/>
<path d="M58.5 399.5L58.5 70.5L656.5 70.5" fill="none" stroke="#262626" stroke-width="1"/>
<line x1="58.5" y1="399.5" x2="656.5" y2="399.5" stroke="#262626" stroke-width="1"/>
<line x1="58.5" y1="399.50" x2="64.5" y2="399.50" stroke="#262626" stroke-width="1"/>
<line x1="58.5" y1="333.50" x2="64.5" y2="333.50" stroke="#262626" stroke-width="1"/>
<line x1="58.5" y1="267.50" x2="64.5" y2="267.50" stroke="#262626" stroke-width="1"/>
<line x1="58.5" y1="201.50" x2="64.5" y2="201.50" stroke="#262626" stroke-width="1"/>
<line x1="58.5" y1="135.50" x2="64.5" y2="135.50" stroke="#262626" stroke-width="1"/>
<line x1="58.5" y1="70.50" x2="64.5" y2="70.50" stroke="#262626" stroke-width="1"/>
<line x1="58.50" y1="399.5" x2="58.50" y2="393.5" stroke="#262626" stroke-width="1"/>
<line x1="58.50" y1="70.5" x2="58.50" y2="76.5" stroke="#262626" stroke-width="1"/>
<line x1="154.50" y1="399.5" x2="154.50" y2="393.5" stroke="#262626" stroke-width="1"/>
<line x1="154.50" y1="70.5" x2="154.50" y2="76.5" stroke="#262626" stroke-width="1"/>
<line x1="250.50" y1="399.5" x2="250.50" y2="393.5" stroke="#262626" stroke-width="1"/>
<line x1="250.50" y1="70.5" x2="250.50" y2="76.5" stroke="#262626" stroke-width="1"/>
<line x1="347.50" y1="399.5" x2="347.50" y2="393.5" stroke="#262626" stroke-width="1"/>
<line x1="347.50" y1="70.5" x2="347.50" y2="76.5" stroke="#262626" stroke-width="1"/>
<line x1="443.50" y1="399.5" x2="443.50" y2="393.5" stroke="#262626" stroke-width="1"/>
<line x1="443.50" y1="70.5" x2="443.50" y2="76.5" stroke="#262626" stroke-width="1"/>
<line x1="540.50" y1="399.5" x2="540.50" y2="393.5" stroke="#262626" stroke-width="1"/>
<line x1="540.50" y1="70.5" x2="540.50" y2="76.5" stroke="#262626" stroke-width="1"/>
<line x1="636.50" y1="399.5" x2="636.50" y2="393.5" stroke="#262626" stroke-width="1"/>
<line x1="636.50" y1="70.5" x2="636.50" y2="76.5" stroke="#262626" stroke-width="1"/>
<circle cx="58.10" cy="179.10" r="2.5" fill="none" stroke="#d6105c" stroke-width="1.9"/>
<circle cx="67.74" cy="219.50" r="2.5" fill="none" stroke="#d6105c" stroke-width="1.9"/>
<circle cx="77.38" cy="185.30" r="2.5" fill="none" stroke="#d6105c" stroke-width="1.9"/>
<circle cx="87.02" cy="226.55" r="2.5" fill="none" stroke="#d6105c" stroke-width="1.9"/>
<circle cx="96.66" cy="239.75" r="2.5" fill="none" stroke="#d6105c" stroke-width="1.9"/>
<circle cx="106.30" cy="222.85" r="2.5" fill="none" stroke="#d6105c" stroke-width="1.9"/>
<circle cx="115.94" cy="210.00" r="2.5" fill="none" stroke="#d6105c" stroke-width="1.9"/>
<circle cx="125.58" cy="219.55" r="2.5" fill="none" stroke="#d6105c" stroke-width="1.9"/>
<circle cx="135.22" cy="228.55" r="2.5" fill="none" stroke="#d6105c" stroke-width="1.9"/>
<circle cx="144.86" cy="236.55" r="2.5" fill="none" stroke="#d6105c" stroke-width="1.9"/>
<circle cx="154.50" cy="227.35" r="2.5" fill="none" stroke="#d6105c" stroke-width="1.9"/>
<circle cx="164.14" cy="227.25" r="2.5" fill="none" stroke="#d6105c" stroke-width="1.9"/>
<circle cx="173.78" cy="202.75" r="2.5" fill="none" stroke="#d6105c" stroke-width="1.9"/>
<circle cx="183.42" cy="216.90" r="2.5" fill="none" stroke="#d6105c" stroke-width="1.9"/>
<circle cx="193.06" cy="236.40" r="2.5" fill="none" stroke="#d6105c" stroke-width="1.9"/>
<circle cx="202.70" cy="247.55" r="2.5" fill="none" stroke="#d6105c" stroke-width="1.9"/>
<circle cx="212.34" cy="229.30" r="2.5" fill="none" stroke="#d6105c" stroke-width="1.9"/>
<circle cx="221.98" cy="226.55" r="2.5" fill="none" stroke="#d6105c" stroke-width="1.9"/>
<circle cx="231.62" cy="228.20" r="2.5" fill="none" stroke="#d6105c" stroke-width="1.9"/>
<circle cx="241.26" cy="246.95" r="2.5" fill="none" stroke="#d6105c" stroke-width="1.9"/>
<circle cx="250.90" cy="213.25" r="2.5" fill="none" stroke="#d6105c" stroke-width="1.9"/>
<circle cx="260.54" cy="255.70" r="2.5" fill="none" stroke="#d6105c" stroke-width="1.9"/>
<circle cx="270.18" cy="242.10" r="2.5" fill="none" stroke="#d6105c" stroke-width="1.9"/>
<circle cx="279.82" cy="245.70" r="2.5" fill="none" stroke="#d6105c" stroke-width="1.9"/>
<circle cx="289.46" cy="234.40" r="2.5" fill="none" stroke="#d6105c" stroke-width="1.9"/>
<circle cx="299.10" cy="227.70" r="2.5" fill="none" stroke="#d6105c" stroke-width="1.9"/>
<circle cx="308.74" cy="220.70" r="2.5" fill="none" stroke="#d6105c" stroke-width="1.9"/>
<circle cx="318.38" cy="230.10" r="2.5" fill="none" stroke="#d6105c" stroke-width="1.9"/>
<circle cx="328.02" cy="225.70" r="2.5" fill="none" stroke="#d6105c" stroke-width="1.9"/>
<circle cx="337.66" cy="230.70" r="2.5" fill="none" stroke="#d6105c" stroke-width="1.9"/>
<circle cx="347.30" cy="235.35" r="2.5" fill="none" stroke="#d6105c" stroke-width="1.9"/>
<circle cx="356.94" cy="238.30" r="2.5" fill="none" stroke="#d6105c" stroke-width="1.9"/>
<circle cx="366.58" cy="233.90" r="2.5" fill="none" stroke="#d6105c" stroke-width="1.9"/>
<circle cx="376.22" cy="245.20" r="2.5" fill="none" stroke="#d6105c" stroke-width="1.9"/>
<circle cx="385.86" cy="227.00" r="2.5" fill="none" stroke="#d6105c" stroke-width="1.9"/>
<circle cx="395.50" cy="216.30" r="2.5" fill="none" stroke="#d6105c" stroke-width="1.9"/>
<circle cx="405.14" cy="239.60" r="2.5" fill="none" stroke="#d6105c" stroke-width="1.9"/>
<circle cx="414.78" cy="242.10" r="2.5" fill="none" stroke="#d6105c" stroke-width="1.9"/>
<circle cx="424.42" cy="225.35" r="2.5" fill="none" stroke="#d6105c" stroke-width="1.9"/>
<circle cx="434.06" cy="240.80" r="2.5" fill="none" stroke="#d6105c" stroke-width="1.9"/>
<circle cx="443.70" cy="217.50" r="2.5" fill="none" stroke="#d6105c" stroke-width="1.9"/>
<circle cx="453.34" cy="220.90" r="2.5" fill="none" stroke="#d6105c" stroke-width="1.9"/>
<circle cx="462.98" cy="220.20" r="2.5" fill="none" stroke="#d6105c" stroke-width="1.9"/>
<circle cx="472.62" cy="216.10" r="2.5" fill="none" stroke="#d6105c" stroke-width="1.9"/>
<circle cx="482.26" cy="228.55" r="2.5" fill="none" stroke="#d6105c" stroke-width="1.9"/>
<circle cx="491.90" cy="220.90" r="2.5" fill="none" stroke="#d6105c" stroke-width="1.9"/>
<circle cx="501.54" cy="226.90" r="2.5" fill="none" stroke="#d6105c" stroke-width="1.9"/>
<circle cx="511.18" cy="233.10" r="2.5" fill="none" stroke="#d6105c" stroke-width="1.9"/>
<circle cx="520.82" cy="218.70" r="2.5" fill="none" stroke="#d6105c" stroke-width="1.9"/>
<circle cx="530.46" cy="239.40" r="2.5" fill="none" stroke="#d6105c" stroke-width="1.9"/>
<circle cx="540.10" cy="228.20" r="2.5" fill="none" stroke="#d6105c" stroke-width="1.9"/>
<circle cx="549.74" cy="226.55" r="2.5" fill="none" stroke="#d6105c" stroke-width="1.9"/>
<circle cx="559.38" cy="220.30" r="2.5" fill="none" stroke="#d6105c" stroke-width="1.9"/>
<circle cx="569.02" cy="227.85" r="2.5" fill="none" stroke="#d6105c" stroke-width="1.9"/>
<circle cx="578.66" cy="219.05" r="2.5" fill="none" stroke="#d6105c" stroke-width="1.9"/>
<circle cx="588.30" cy="212.90" r="2.5" fill="none" stroke="#d6105c" stroke-width="1.9"/>
<circle cx="597.94" cy="226.55" r="2.5" fill="none" stroke="#d6105c" stroke-width="1.9"/>
<circle cx="607.58" cy="229.50" r="2.5" fill="none" stroke="#d6105c" stroke-width="1.9"/>
<circle cx="617.22" cy="225.10" r="2.5" fill="none" stroke="#d6105c" stroke-width="1.9"/>
<circle cx="626.86" cy="225.10" r="2.5" fill="none" stroke="#d6105c" stroke-width="1.9"/>
<circle cx="636.50" cy="234.90" r="2.5" fill="none" stroke="#d6105c" stroke-width="1.9"/>
<circle cx="646.14" cy="220.70" r="2.5" fill="none" stroke="#d6105c" stroke-width="1.9"/>
<circle cx="655.78" cy="399.00" r="2.5" fill="none" stroke="#d6105c" stroke-width="1.9"/>
<circle cx="62.92" cy="390.00" r="2.5" fill="none" stroke="#d6105c" stroke-width="1.9"/>
<circle cx="72.56" cy="393.30" r="2.5" fill="none" stroke="#d6105c" stroke-width="1.9"/>
<circle cx="82.20" cy="387.50" r="2.5" fill="none" stroke="#d6105c" stroke-width="1.9"/>
<circle cx="91.84" cy="394.30" r="2.5" fill="none" stroke="#d6105c" stroke-width="1.9"/>
<circle cx="101.48" cy="390.00" r="2.5" fill="none" stroke="#d6105c" stroke-width="1.9"/>
<circle cx="111.12" cy="395.00" r="2.5" fill="none" stroke="#d6105c" stroke-width="1.9"/>
<circle cx="120.76" cy="388.30" r="2.5" fill="none" stroke="#d6105c" stroke-width="1.9"/>
<circle cx="130.40" cy="394.30" r="2.5" fill="none" stroke="#d6105c" stroke-width="1.9"/>
<circle cx="140.04" cy="390.00" r="2.5" fill="none" stroke="#d6105c" stroke-width="1.9"/>
<circle cx="149.68" cy="397.00" r="2.5" fill="none" stroke="#d6105c" stroke-width="1.9"/>
<circle cx="159.32" cy="390.00" r="2.5" fill="none" stroke="#d6105c" stroke-width="1.9"/>
<circle cx="168.96" cy="395.00" r="2.5" fill="none" stroke="#d6105c" stroke-width="1.9"/>
<circle cx="178.60" cy="387.50" r="2.5" fill="none" stroke="#d6105c" stroke-width="1.9"/>
<circle cx="188.24" cy="394.30" r="2.5" fill="none" stroke="#d6105c" stroke-width="1.9"/>
<circle cx="197.88" cy="386.30" r="2.5" fill="none" stroke="#d6105c" stroke-width="1.9"/>
<circle cx="207.52" cy="392.50" r="2.5" fill="none" stroke="#d6105c" stroke-width="1.9"/>
<circle cx="217.16" cy="387.50" r="2.5" fill="none" stroke="#d6105c" stroke-width="1.9"/>
<circle cx="226.80" cy="393.00" r="2.5" fill="none" stroke="#d6105c" stroke-width="1.9"/>
<circle cx="236.44" cy="390.80" r="2.5" fill="none" stroke="#d6105c" stroke-width="1.9"/>
<circle cx="246.08" cy="390.00" r="2.5" fill="none" stroke="#d6105c" stroke-width="1.9"/>
<circle cx="255.72" cy="389.50" r="2.5" fill="none" stroke="#d6105c" stroke-width="1.9"/>
<circle cx="265.36" cy="393.80" r="2.5" fill="none" stroke="#d6105c" stroke-width="1.9"/>
<circle cx="275.00" cy="387.50" r="2.5" fill="none" stroke="#d6105c" stroke-width="1.9"/>
<circle cx="284.64" cy="394.30" r="2.5" fill="none" stroke="#d6105c" stroke-width="1.9"/>
<circle cx="294.28" cy="389.30" r="2.5" fill="none" stroke="#d6105c" stroke-width="1.9"/>
<circle cx="303.92" cy="395.80" r="2.5" fill="none" stroke="#d6105c" stroke-width="1.9"/>
<circle cx="313.56" cy="388.80" r="2.5" fill="none" stroke="#d6105c" stroke-width="1.9"/>
<circle cx="323.20" cy="395.00" r="2.5" fill="none" stroke="#d6105c" stroke-width="1.9"/>
<circle cx="332.84" cy="390.50" r="2.5" fill="none" stroke="#d6105c" stroke-width="1.9"/>
<circle cx="342.48" cy="395.00" r="2.5" fill="none" stroke="#d6105c" stroke-width="1.9"/>
<circle cx="352.12" cy="390.80" r="2.5" fill="none" stroke="#d6105c" stroke-width="1.9"/>
<circle cx="361.76" cy="398.30" r="2.5" fill="none" stroke="#d6105c" stroke-width="1.9"/>
<circle cx="371.40" cy="390.00" r="2.5" fill="none" stroke="#d6105c" stroke-width="1.9"/>
<circle cx="381.04" cy="397.00" r="2.5" fill="none" stroke="#d6105c" stroke-width="1.9"/>
<circle cx="390.68" cy="389.30" r="2.5" fill="none" stroke="#d6105c" stroke-width="1.9"/>
<circle cx="400.32" cy="397.00" r="2.5" fill="none" stroke="#d6105c" stroke-width="1.9"/>
<circle cx="409.96" cy="392.00" r="2.5" fill="none" stroke="#d6105c" stroke-width="1.9"/>
<circle cx="419.60" cy="395.80" r="2.5" fill="none" stroke="#d6105c" stroke-width="1.9"/>
<circle cx="429.24" cy="390.00" r="2.5" fill="none" stroke="#d6105c" stroke-width="1.9"/>
<circle cx="438.88" cy="397.00" r="2.5" fill="none" stroke="#d6105c" stroke-width="1.9"/>
<circle cx="448.52" cy="389.30" r="2.5" fill="none" stroke="#d6105c" stroke-width="1.9"/>
<circle cx="458.16" cy="398.50" r="2.5" fill="none" stroke="#d6105c" stroke-width="1.9"/>
<circle cx="467.80" cy="390.00" r="2.5" fill="none" stroke="#d6105c" stroke-width="1.9"/>
<circle cx="477.44" cy="398.50" r="2.5" fill="none" stroke="#d6105c" stroke-width="1.9"/>
<circle cx="487.08" cy="390.00" r="2.5" fill="none" stroke="#d6105c" stroke-width="1.9"/>
<circle cx="496.72" cy="395.80" r="2.5" fill="none" stroke="#d6105c" stroke-width="1.9"/>
<circle cx="506.36" cy="390.00" r="2.5" fill="none" stroke="#d6105c" stroke-width="1.9"/>
<circle cx="516.00" cy="398.30" r="2.5" fill="none" stroke="#d6105c" stroke-width="1.9"/>
<circle cx="525.64" cy="391.30" r="2.5" fill="none" stroke="#d6105c" stroke-width="1.9"/>
<circle cx="535.28" cy="395.80" r="2.5" fill="none" stroke="#d6105c" stroke-width="1.9"/>
<circle cx="544.92" cy="388.30" r="2.5" fill="none" stroke="#d6105c" stroke-width="1.9"/>
<circle cx="554.56" cy="394.30" r="2.5" fill="none" stroke="#d6105c" stroke-width="1.9"/>
<circle cx="564.20" cy="390.80" r="2.5" fill="none" stroke="#d6105c" stroke-width="1.9"/>
<circle cx="573.84" cy="395.80" r="2.5" fill="none" stroke="#d6105c" stroke-width="1.9"/>
<circle cx="583.48" cy="390.80" r="2.5" fill="none" stroke="#d6105c" stroke-width="1.9"/>
<circle cx="593.12" cy="397.00" r="2.5" fill="none" stroke="#d6105c" stroke-width="1.9"/>
<circle cx="602.76" cy="390.00" r="2.5" fill="none" stroke="#d6105c" stroke-width="1.9"/>
<circle cx="612.40" cy="397.00" r="2.5" fill="none" stroke="#d6105c" stroke-width="1.9"/>
<circle cx="622.04" cy="388.30" r="2.5" fill="none" stroke="#d6105c" stroke-width="1.9"/>
<circle cx="631.68" cy="397.00" r="2.5" fill="none" stroke="#d6105c" stroke-width="1.9"/>
<circle cx="641.32" cy="391.60" r="2.5" fill="none" stroke="#d6105c" stroke-width="1.9"/>
<circle cx="650.96" cy="395.80" r="2.5" fill="none" stroke="#d6105c" stroke-width="1.9"/>
<path d="M53.00 181.70L63.20 181.70M55.22 178.82L60.98 184.58M58.10 176.60L58.10 186.80M60.98 178.82L55.22 184.58M62.64 222.10L72.84 222.10M64.86 219.22L70.62 224.98M67.74 217.00L67.74 227.20M70.62 219.22L64.86 224.98M72.28 187.90L82.48 187.90M74.50 185.02L80.26 190.78M77.38 182.80L77.38 193.00M80.26 185.02L74.50 190.78M81.92 227.45L92.12 227.45M84.14 224.57L89.90 230.33M87.02 222.35L87.02 232.55M89.90 224.57L84.14 230.33M91.56 240.65L101.76 240.65M93.78 237.77L99.54 243.53M96.66 235.55L96.66 245.75M99.54 237.77L93.78 243.53M101.20 223.75L111.40 223.75M103.42 220.87L109.18 226.63M106.30 218.65L106.30 228.85M109.18 220.87L103.42 226.63M110.84 212.60L121.04 212.60M113.06 209.72L118.82 215.48M115.94 207.50L115.94 217.70M118.82 209.72L113.06 215.48M120.48 220.45L130.68 220.45M122.70 217.57L128.46 223.33M125.58 215.35L125.58 225.55M128.46 217.57L122.70 223.33M130.12 229.45L140.32 229.45M132.34 226.57L138.10 232.33M135.22 224.35L135.22 234.55M138.10 226.57L132.34 232.33M139.76 237.45L149.96 237.45M141.98 234.57L147.74 240.33M144.86 232.35L144.86 242.55M147.74 234.57L141.98 240.33M149.40 228.25L159.60 228.25M151.62 225.37L157.38 231.13M154.50 223.15L154.50 233.35M157.38 225.37L151.62 231.13M159.04 228.15L169.24 228.15M161.26 225.27L167.02 231.03M164.14 223.05L164.14 233.25M167.02 225.27L161.26 231.03M168.68 203.65L178.88 203.65M170.90 200.77L176.66 206.53M173.78 198.55L173.78 208.75M176.66 200.77L170.90 206.53M178.32 219.50L188.52 219.50M180.54 216.62L186.30 222.38M183.42 214.40L183.42 224.60M186.30 216.62L180.54 222.38M187.96 239.00L198.16 239.00M190.18 236.12L195.94 241.88M193.06 233.90L193.06 244.10M195.94 236.12L190.18 241.88M197.60 248.45L207.80 248.45M199.82 245.57L205.58 251.33M202.70 243.35L202.70 253.55M205.58 245.57L199.82 251.33M207.24 233.50L217.44 233.50M209.46 230.62L215.22 236.38M212.34 228.40L212.34 238.60M215.22 230.62L209.46 236.38M216.88 227.45L227.08 227.45M219.10 224.57L224.86 230.33M221.98 222.35L221.98 232.55M224.86 224.57L219.10 230.33M226.52 230.80L236.72 230.80M228.74 227.92L234.50 233.68M231.62 225.70L231.62 235.90M234.50 227.92L228.74 233.68M236.16 247.85L246.36 247.85M238.38 244.97L244.14 250.73M241.26 242.75L241.26 252.95M244.14 244.97L238.38 250.73M245.80 214.15L256.00 214.15M248.02 211.27L253.78 217.03M250.90 209.05L250.90 219.25M253.78 211.27L248.02 217.03M255.44 258.30L265.64 258.30M257.66 255.42L263.42 261.18M260.54 253.20L260.54 263.40M263.42 255.42L257.66 261.18M265.08 244.70L275.28 244.70M267.30 241.82L273.06 247.58M270.18 239.60L270.18 249.80M273.06 241.82L267.30 247.58M274.72 248.30L284.92 248.30M276.94 245.42L282.70 251.18M279.82 243.20L279.82 253.40M282.70 245.42L276.94 251.18M284.36 238.60L294.56 238.60M286.58 235.72L292.34 241.48M289.46 233.50L289.46 243.70M292.34 235.72L286.58 241.48M294.00 230.30L304.20 230.30M296.22 227.42L301.98 233.18M299.10 225.20L299.10 235.40M301.98 227.42L296.22 233.18M303.64 223.30L313.84 223.30M305.86 220.42L311.62 226.18M308.74 218.20L308.74 228.40M311.62 220.42L305.86 226.18M313.28 232.70L323.48 232.70M315.50 229.82L321.26 235.58M318.38 227.60L318.38 237.80M321.26 229.82L315.50 235.58M322.92 228.30L333.12 228.30M325.14 225.42L330.90 231.18M328.02 223.20L328.02 233.40M330.90 225.42L325.14 231.18M332.56 233.30L342.76 233.30M334.78 230.42L340.54 236.18M337.66 228.20L337.66 238.40M340.54 230.42L334.78 236.18M342.20 236.25L352.40 236.25M344.42 233.37L350.18 239.13M347.30 231.15L347.30 241.35M350.18 233.37L344.42 239.13M351.84 240.90L362.04 240.90M354.06 238.02L359.82 243.78M356.94 235.80L356.94 246.00M359.82 238.02L354.06 243.78M361.48 236.50L371.68 236.50M363.70 233.62L369.46 239.38M366.58 231.40L366.58 241.60M369.46 233.62L363.70 239.38M371.12 247.80L381.32 247.80M373.34 244.92L379.10 250.68M376.22 242.70L376.22 252.90M379.10 244.92L373.34 250.68M380.76 229.60L390.96 229.60M382.98 226.72L388.74 232.48M385.86 224.50L385.86 234.70M388.74 226.72L382.98 232.48M390.40 218.90L400.60 218.90M392.62 216.02L398.38 221.78M395.50 213.80L395.50 224.00M398.38 216.02L392.62 221.78M400.04 242.20L410.24 242.20M402.26 239.32L408.02 245.08M405.14 237.10L405.14 247.30M408.02 239.32L402.26 245.08M409.68 244.70L419.88 244.70M411.90 241.82L417.66 247.58M414.78 239.60L414.78 249.80M417.66 241.82L411.90 247.58M419.32 226.25L429.52 226.25M421.54 223.37L427.30 229.13M424.42 221.15L424.42 231.35M427.30 223.37L421.54 229.13M428.96 243.40L439.16 243.40M431.18 240.52L436.94 246.28M434.06 238.30L434.06 248.50M436.94 240.52L431.18 246.28M438.60 220.10L448.80 220.10M440.82 217.22L446.58 222.98M443.70 215.00L443.70 225.20M446.58 217.22L440.82 222.98M448.24 223.50L458.44 223.50M450.46 220.62L456.22 226.38M453.34 218.40L453.34 228.60M456.22 220.62L450.46 226.38M457.88 222.80L468.08 222.80M460.10 219.92L465.86 225.68M462.98 217.70L462.98 227.90M465.86 219.92L460.10 225.68M467.52 218.70L477.72 218.70M469.74 215.82L475.50 221.58M472.62 213.60L472.62 223.80M475.50 215.82L469.74 221.58M477.16 229.45L487.36 229.45M479.38 226.57L485.14 232.33M482.26 224.35L482.26 234.55M485.14 226.57L479.38 232.33M486.80 223.50L497.00 223.50M489.02 220.62L494.78 226.38M491.90 218.40L491.90 228.60M494.78 220.62L489.02 226.38M496.44 229.50L506.64 229.50M498.66 226.62L504.42 232.38M501.54 224.40L501.54 234.60M504.42 226.62L498.66 232.38M506.08 237.30L516.28 237.30M508.30 234.42L514.06 240.18M511.18 232.20L511.18 242.40M514.06 234.42L508.30 240.18M515.72 221.30L525.92 221.30M517.94 218.42L523.70 224.18M520.82 216.20L520.82 226.40M523.70 218.42L517.94 224.18M525.36 243.60L535.56 243.60M527.58 240.72L533.34 246.48M530.46 238.50L530.46 248.70M533.34 240.72L527.58 246.48M535.00 230.80L545.20 230.80M537.22 227.92L542.98 233.68M540.10 225.70L540.10 235.90M542.98 227.92L537.22 233.68M544.64 227.45L554.84 227.45M546.86 224.57L552.62 230.33M549.74 222.35L549.74 232.55M552.62 224.57L546.86 230.33M554.28 222.90L564.48 222.90M556.50 220.02L562.26 225.78M559.38 217.80L559.38 228.00M562.26 220.02L556.50 225.78M563.92 228.75L574.12 228.75M566.14 225.87L571.90 231.63M569.02 223.65L569.02 233.85M571.90 225.87L566.14 231.63M573.56 219.95L583.76 219.95M575.78 217.07L581.54 222.83M578.66 214.85L578.66 225.05M581.54 217.07L575.78 222.83M583.20 217.10L593.40 217.10M585.42 214.22L591.18 219.98M588.30 212.00L588.30 222.20M591.18 214.22L585.42 219.98M592.84 227.45L603.04 227.45M595.06 224.57L600.82 230.33M597.94 222.35L597.94 232.55M600.82 224.57L595.06 230.33M602.48 232.10L612.68 232.10M604.70 229.22L610.46 234.98M607.58 227.00L607.58 237.20M610.46 229.22L604.70 234.98M612.12 227.70L622.32 227.70M614.34 224.82L620.10 230.58M617.22 222.60L617.22 232.80M620.10 224.82L614.34 230.58M621.76 227.70L631.96 227.70M623.98 224.82L629.74 230.58M626.86 222.60L626.86 232.80M629.74 224.82L623.98 230.58M631.40 239.10L641.60 239.10M633.62 236.22L639.38 241.98M636.50 234.00L636.50 244.20M639.38 236.22L633.62 241.98M641.04 223.30L651.24 223.30M643.26 220.42L649.02 226.18M646.14 218.20L646.14 228.40M649.02 220.42L643.26 226.18M650.68 399.00L660.88 399.00M652.90 396.12L658.66 401.88M655.78 393.90L655.78 404.10M658.66 396.12L652.90 401.88M57.82 390.00L68.02 390.00M60.04 387.12L65.80 392.88M62.92 384.90L62.92 395.10M65.80 387.12L60.04 392.88M67.46 393.30L77.66 393.30M69.68 390.42L75.44 396.18M72.56 388.20L72.56 398.40M75.44 390.42L69.68 396.18M77.10 387.50L87.30 387.50M79.32 384.62L85.08 390.38M82.20 382.40L82.20 392.60M85.08 384.62L79.32 390.38M86.74 394.30L96.94 394.30M88.96 391.42L94.72 397.18M91.84 389.20L91.84 399.40M94.72 391.42L88.96 397.18M96.38 390.00L106.58 390.00M98.60 387.12L104.36 392.88M101.48 384.90L101.48 395.10M104.36 387.12L98.60 392.88M106.02 395.00L116.22 395.00M108.24 392.12L114.00 397.88M111.12 389.90L111.12 400.10M114.00 392.12L108.24 397.88M115.66 388.30L125.86 388.30M117.88 385.42L123.64 391.18M120.76 383.20L120.76 393.40M123.64 385.42L117.88 391.18M125.30 394.30L135.50 394.30M127.52 391.42L133.28 397.18M130.40 389.20L130.40 399.40M133.28 391.42L127.52 397.18M134.94 390.00L145.14 390.00M137.16 387.12L142.92 392.88M140.04 384.90L140.04 395.10M142.92 387.12L137.16 392.88M144.58 397.00L154.78 397.00M146.80 394.12L152.56 399.88M149.68 391.90L149.68 402.10M152.56 394.12L146.80 399.88M154.22 390.00L164.42 390.00M156.44 387.12L162.20 392.88M159.32 384.90L159.32 395.10M162.20 387.12L156.44 392.88M163.86 395.00L174.06 395.00M166.08 392.12L171.84 397.88M168.96 389.90L168.96 400.10M171.84 392.12L166.08 397.88M173.50 387.50L183.70 387.50M175.72 384.62L181.48 390.38M178.60 382.40L178.60 392.60M181.48 384.62L175.72 390.38M183.14 394.30L193.34 394.30M185.36 391.42L191.12 397.18M188.24 389.20L188.24 399.40M191.12 391.42L185.36 397.18M192.78 386.30L202.98 386.30M195.00 383.42L200.76 389.18M197.88 381.20L197.88 391.40M200.76 383.42L195.00 389.18M202.42 392.50L212.62 392.50M204.64 389.62L210.40 395.38M207.52 387.40L207.52 397.60M210.40 389.62L204.64 395.38M212.06 387.50L222.26 387.50M214.28 384.62L220.04 390.38M217.16 382.40L217.16 392.60M220.04 384.62L214.28 390.38M221.70 393.00L231.90 393.00M223.92 390.12L229.68 395.88M226.80 387.90L226.80 398.10M229.68 390.12L223.92 395.88M231.34 390.80L241.54 390.80M233.56 387.92L239.32 393.68M236.44 385.70L236.44 395.90M239.32 387.92L233.56 393.68M240.98 390.00L251.18 390.00M243.20 387.12L248.96 392.88M246.08 384.90L246.08 395.10M248.96 387.12L243.20 392.88M250.62 389.50L260.82 389.50M252.84 386.62L258.60 392.38M255.72 384.40L255.72 394.60M258.60 386.62L252.84 392.38M260.26 393.80L270.46 393.80M262.48 390.92L268.24 396.68M265.36 388.70L265.36 398.90M268.24 390.92L262.48 396.68M269.90 387.50L280.10 387.50M272.12 384.62L277.88 390.38M275.00 382.40L275.00 392.60M277.88 384.62L272.12 390.38M279.54 394.30L289.74 394.30M281.76 391.42L287.52 397.18M284.64 389.20L284.64 399.40M287.52 391.42L281.76 397.18M289.18 389.30L299.38 389.30M291.40 386.42L297.16 392.18M294.28 384.20L294.28 394.40M297.16 386.42L291.40 392.18M298.82 395.80L309.02 395.80M301.04 392.92L306.80 398.68M303.92 390.70L303.92 400.90M306.80 392.92L301.04 398.68M308.46 388.80L318.66 388.80M310.68 385.92L316.44 391.68M313.56 383.70L313.56 393.90M316.44 385.92L310.68 391.68M318.10 395.00L328.30 395.00M320.32 392.12L326.08 397.88M323.20 389.90L323.20 400.10M326.08 392.12L320.32 397.88M327.74 390.50L337.94 390.50M329.96 387.62L335.72 393.38M332.84 385.40L332.84 395.60M335.72 387.62L329.96 393.38M337.38 395.00L347.58 395.00M339.60 392.12L345.36 397.88M342.48 389.90L342.48 400.10M345.36 392.12L339.60 397.88M347.02 390.80L357.22 390.80M349.24 387.92L355.00 393.68M352.12 385.70L352.12 395.90M355.00 387.92L349.24 393.68M356.66 398.30L366.86 398.30M358.88 395.42L364.64 401.18M361.76 393.20L361.76 403.40M364.64 395.42L358.88 401.18M366.30 390.00L376.50 390.00M368.52 387.12L374.28 392.88M371.40 384.90L371.40 395.10M374.28 387.12L368.52 392.88M375.94 397.00L386.14 397.00M378.16 394.12L383.92 399.88M381.04 391.90L381.04 402.10M383.92 394.12L378.16 399.88M385.58 389.30L395.78 389.30M387.80 386.42L393.56 392.18M390.68 384.20L390.68 394.40M393.56 386.42L387.80 392.18M395.22 397.00L405.42 397.00M397.44 394.12L403.20 399.88M400.32 391.90L400.32 402.10M403.20 394.12L397.44 399.88M404.86 392.00L415.06 392.00M407.08 389.12L412.84 394.88M409.96 386.90L409.96 397.10M412.84 389.12L407.08 394.88M414.50 395.80L424.70 395.80M416.72 392.92L422.48 398.68M419.60 390.70L419.60 400.90M422.48 392.92L416.72 398.68M424.14 390.00L434.34 390.00M426.36 387.12L432.12 392.88M429.24 384.90L429.24 395.10M432.12 387.12L426.36 392.88M433.78 397.00L443.98 397.00M436.00 394.12L441.76 399.88M438.88 391.90L438.88 402.10M441.76 394.12L436.00 399.88M443.42 389.30L453.62 389.30M445.64 386.42L451.40 392.18M448.52 384.20L448.52 394.40M451.40 386.42L445.64 392.18M453.06 398.50L463.26 398.50M455.28 395.62L461.04 401.38M458.16 393.40L458.16 403.60M461.04 395.62L455.28 401.38M462.70 390.00L472.90 390.00M464.92 387.12L470.68 392.88M467.80 384.90L467.80 395.10M470.68 387.12L464.92 392.88M472.34 398.50L482.54 398.50M474.56 395.62L480.32 401.38M477.44 393.40L477.44 403.60M480.32 395.62L474.56 401.38M481.98 390.00L492.18 390.00M484.20 387.12L489.96 392.88M487.08 384.90L487.08 395.10M489.96 387.12L484.20 392.88M491.62 395.80L501.82 395.80M493.84 392.92L499.60 398.68M496.72 390.70L496.72 400.90M499.60 392.92L493.84 398.68M501.26 390.00L511.46 390.00M503.48 387.12L509.24 392.88M506.36 384.90L506.36 395.10M509.24 387.12L503.48 392.88M510.90 398.30L521.10 398.30M513.12 395.42L518.88 401.18M516.00 393.20L516.00 403.40M518.88 395.42L513.12 401.18M520.54 391.30L530.74 391.30M522.76 388.42L528.52 394.18M525.64 386.20L525.64 396.40M528.52 388.42L522.76 394.18M530.18 395.80L540.38 395.80M532.40 392.92L538.16 398.68M535.28 390.70L535.28 400.90M538.16 392.92L532.40 398.68M539.82 388.30L550.02 388.30M542.04 385.42L547.80 391.18M544.92 383.20L544.92 393.40M547.80 385.42L542.04 391.18M549.46 394.30L559.66 394.30M551.68 391.42L557.44 397.18M554.56 389.20L554.56 399.40M557.44 391.42L551.68 397.18M559.10 390.80L569.30 390.80M561.32 387.92L567.08 393.68M564.20 385.70L564.20 395.90M567.08 387.92L561.32 393.68M568.74 395.80L578.94 395.80M570.96 392.92L576.72 398.68M573.84 390.70L573.84 400.90M576.72 392.92L570.96 398.68M578.38 390.80L588.58 390.80M580.60 387.92L586.36 393.68M583.48 385.70L583.48 395.90M586.36 387.92L580.60 393.68M588.02 397.00L598.22 397.00M590.24 394.12L596.00 399.88M593.12 391.90L593.12 402.10M596.00 394.12L590.24 399.88M597.66 390.00L607.86 390.00M599.88 387.12L605.64 392.88M602.76 384.90L602.76 395.10M605.64 387.12L599.88 392.88M607.30 397.00L617.50 397.00M609.52 394.12L615.28 399.88M612.40 391.90L612.40 402.10M615.28 394.12L609.52 399.88M616.94 388.30L627.14 388.30M619.16 385.42L624.92 391.18M622.04 383.20L622.04 393.40M624.92 385.42L619.16 391.18M626.58 397.00L636.78 397.00M628.80 394.12L634.56 399.88M631.68 391.90L631.68 402.10M634.56 394.12L628.80 399.88M636.22 393.40L646.42 393.40M638.44 390.52L644.20 396.28M641.32 388.30L641.32 398.50M644.20 390.52L638.44 396.28M645.86 395.80L656.06 395.80M648.08 392.92L653.84 398.68M650.96 390.70L650.96 400.90M653.84 392.92L648.08 398.68" stroke="#d6105c" stroke-width="2.0" fill="none"/>
<line x1="656.5" y1="70.5" x2="656.5" y2="399.5" stroke="#d6105c" stroke-width="1"/>
<line x1="656.5" y1="399.50" x2="650.5" y2="399.50" stroke="#d6105c" stroke-width="1"/>
<line x1="656.5" y1="333.50" x2="650.5" y2="333.50" stroke="#d6105c" stroke-width="1"/>
<line x1="656.5" y1="267.50" x2="650.5" y2="267.50" stroke="#d6105c" stroke-width="1"/>
<line x1="656.5" y1="201.50" x2="650.5" y2="201.50" stroke="#d6105c" stroke-width="1"/>
<line x1="656.5" y1="135.50" x2="650.5" y2="135.50" stroke="#d6105c" stroke-width="1"/>
<line x1="656.5" y1="70.50" x2="650.5" y2="70.50" stroke="#d6105c" stroke-width="1"/>
<line x1="397.5" y1="90" x2="427" y2="90" stroke="#000" stroke-width="2.4"/>
<circle cx="412.2" cy="90" r="3.4" fill="#000"/>
<path d="M408.20 90.00L416.20 90.00M409.94 87.74L414.46 92.26M412.20 86.00L412.20 94.00M414.46 87.74L409.94 92.26" stroke="#000" stroke-width="1.1"/>
<line x1="397.5" y1="110" x2="427" y2="110" stroke="#078585" stroke-width="2.4"/>
<rect x="408.59999999999997" y="106.5" width="7.2" height="7" rx="2.6" fill="#078585"/>
<text x="430.3" y="95.9" font-size="16.2" fill="#0a55ff" stroke="#0a55ff" stroke-width="0.25" text-anchor="start" font-weight="normal" style="font-family:'Liberation Sans',sans-serif" >rmse grand pr = 2.6689</text>
<text x="430.3" y="114.8" font-size="16.2" fill="#0a55ff" stroke="#0a55ff" stroke-width="0.25" text-anchor="start" font-weight="normal" style="font-family:'Liberation Sans',sans-serif" >totalspread grand pr = 2.4811</text>
<text x="356.3" y="42.2" font-size="16.2" fill="#000" text-anchor="middle" font-weight="bold" style="font-family:'Liberation Sans',sans-serif" >Tropics 49735 / 50346 = 98.786%</text>
<text x="0" y="61.7" font-size="16.2" fill="#000" text-anchor="middle" font-weight="bold" style="font-family:'Liberation Sans',sans-serif" transform="translate(356.6,0) scale(0.974,1)">RADIOSONDE_V_WIND_COMPONENT @ 525 hPa</text>
<text x="52.6" y="405.30" font-size="16.2" fill="#262626" stroke="#262626" stroke-width="0.25" text-anchor="end" font-weight="normal" style="font-family:'Liberation Sans',sans-serif" >0</text>
<text x="52.6" y="339.30" font-size="16.2" fill="#262626" stroke="#262626" stroke-width="0.25" text-anchor="end" font-weight="normal" style="font-family:'Liberation Sans',sans-serif" >1</text>
<text x="52.6" y="273.30" font-size="16.2" fill="#262626" stroke="#262626" stroke-width="0.25" text-anchor="end" font-weight="normal" style="font-family:'Liberation Sans',sans-serif" >2</text>
<text x="52.6" y="207.30" font-size="16.2" fill="#262626" stroke="#262626" stroke-width="0.25" text-anchor="end" font-weight="normal" style="font-family:'Liberation Sans',sans-serif" >3</text>
<text x="52.6" y="141.30" font-size="16.2" fill="#262626" stroke="#262626" stroke-width="0.25" text-anchor="end" font-weight="normal" style="font-family:'Liberation Sans',sans-serif" >4</text>
<text x="52.6" y="76.30" font-size="16.2" fill="#262626" stroke="#262626" stroke-width="0.25" text-anchor="end" font-weight="normal" style="font-family:'Liberation Sans',sans-serif" >5</text>
<text x="678.6" y="405.20" font-size="16.2" fill="#d6105c" stroke="#d6105c" stroke-width="0.25" text-anchor="middle" font-weight="normal" style="font-family:'Liberation Sans',sans-serif" >0</text>
<text x="678.6" y="339.20" font-size="16.2" fill="#d6105c" stroke="#d6105c" stroke-width="0.25" text-anchor="middle" font-weight="normal" style="font-family:'Liberation Sans',sans-serif" >300</text>
<text x="678.6" y="273.20" font-size="16.2" fill="#d6105c" stroke="#d6105c" stroke-width="0.25" text-anchor="middle" font-weight="normal" style="font-family:'Liberation Sans',sans-serif" >600</text>
<text x="678.6" y="207.20" font-size="16.2" fill="#d6105c" stroke="#d6105c" stroke-width="0.25" text-anchor="middle" font-weight="normal" style="font-family:'Liberation Sans',sans-serif" >900</text>
<text x="678.6" y="141.20" font-size="16.2" fill="#d6105c" stroke="#d6105c" stroke-width="0.25" text-anchor="middle" font-weight="normal" style="font-family:'Liberation Sans',sans-serif" >1200</text>
<text x="678.6" y="76.20" font-size="16.2" fill="#d6105c" stroke="#d6105c" stroke-width="0.25" text-anchor="middle" font-weight="normal" style="font-family:'Liberation Sans',sans-serif" >1500</text>
<text x="58.10" y="420.2" font-size="16.2" fill="#262626" stroke="#262626" stroke-width="0.25" text-anchor="middle" font-weight="normal" style="font-family:'Liberation Sans',sans-serif" >03/01</text>
<text x="154.50" y="420.2" font-size="16.2" fill="#262626" stroke="#262626" stroke-width="0.25" text-anchor="middle" font-weight="normal" style="font-family:'Liberation Sans',sans-serif" >03/06</text>
<text x="250.90" y="420.2" font-size="16.2" fill="#262626" stroke="#262626" stroke-width="0.25" text-anchor="middle" font-weight="normal" style="font-family:'Liberation Sans',sans-serif" >03/11</text>
<text x="347.30" y="420.2" font-size="16.2" fill="#262626" stroke="#262626" stroke-width="0.25" text-anchor="middle" font-weight="normal" style="font-family:'Liberation Sans',sans-serif" >03/16</text>
<text x="443.70" y="420.2" font-size="16.2" fill="#262626" stroke="#262626" stroke-width="0.25" text-anchor="middle" font-weight="normal" style="font-family:'Liberation Sans',sans-serif" >03/21</text>
<text x="540.10" y="420.2" font-size="16.2" fill="#262626" stroke="#262626" stroke-width="0.25" text-anchor="middle" font-weight="normal" style="font-family:'Liberation Sans',sans-serif" >03/26</text>
<text x="636.50" y="420.2" font-size="16.2" fill="#262626" stroke="#262626" stroke-width="0.25" text-anchor="middle" font-weight="normal" style="font-family:'Liberation Sans',sans-serif" >03/31</text>
<text x="356.7" y="441.0" font-size="16.1" fill="#262626" stroke="#262626" stroke-width="0.25" text-anchor="middle" font-weight="normal" style="font-family:'Liberation Sans',sans-serif" >Mar.01,2016 00:00:00 start</text>
<text x="397.7" y="457.8" font-size="8.03" fill="#000" stroke="#000" stroke-width="0.25" text-anchor="middle" font-weight="normal" style="font-family:'Liberation Sans',sans-serif" >data file: /Users/raeder/DAI/ATM_forcXX/CAM6_setup/f.e21.FHIST_BGC.f09_025.CAM6assim.011/Diags_NTrS_2016-03/obs_diag_output.nc</text>
<text transform="translate(37.4,234.5) rotate(-90)" font-size="16.2" fill="#262626" text-anchor="middle" style="font-family:'Liberation Sans',sans-serif">rmse and totalspread</text>
<g transform="translate(716.4,361.2) rotate(-90)"><text x="0" y="0" font-size="16.2" fill="#d6105c" style="font-family:'Liberation Sans',sans-serif"># of obs: o=possible;</text><text x="163" y="0" font-size="16.2" fill="#d6105c" style="font-family:'Liberation Sans',sans-serif">=assimilated</text><path d="M159.8 -6.9L159.8 -1.7M157.5 -5.6L162.1 -3M157.5 -3L162.1 -5.6" stroke="#d6105c" stroke-width="0.8" stroke-opacity="0.85" fill="none"/></g>
</svg>
</body></html>
